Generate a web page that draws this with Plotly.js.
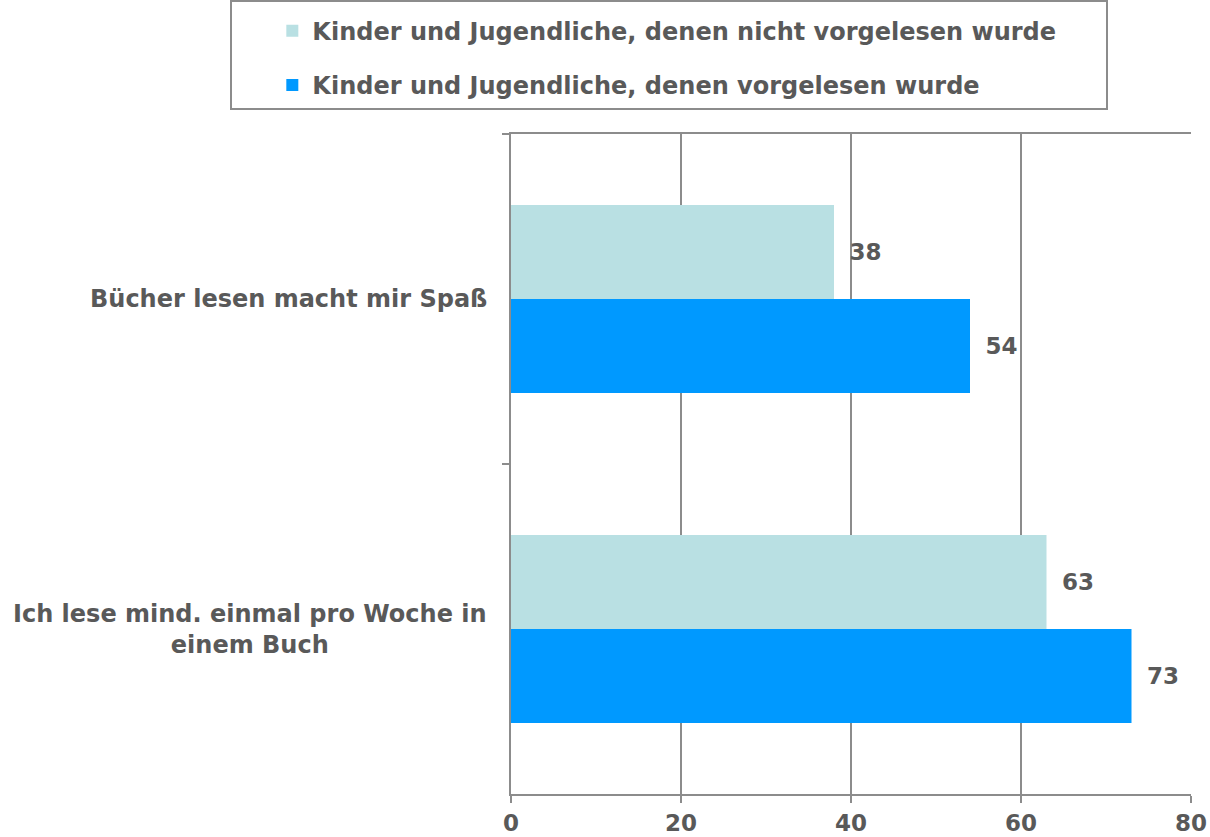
<!DOCTYPE html>
<html>
<head>
<meta charset="utf-8">
<script src="https://cdn.plot.ly/plotly-3.0.1.min.js"></script>
<style>
html,body{margin:0;padding:0;background:#fff;}
#chart{width:1210px;height:837px;}
</style>
</head>
<body>
<div id="chart"></div>
<script>
var categories = ["Bücher lesen macht mir Spaß", "Ich lese mind. einmal pro Woche in<br>einem Buch"];
var seriesNames = ["Kinder und Jugendliche, denen nicht vorgelesen wurde", "Kinder und Jugendliche, denen vorgelesen wurde"];
var notReadTo = [38, 63];
var readTo = [54, 73];
var xTicks = [0, 20, 40, 60, 80];

var textColor = "#595959";
var gridColor = "#8c8c8c";
var fontFam = "DejaVu Sans, Verdana, sans-serif";

function barTrace(name, values, color, group) {
  return {
    type: "bar",
    orientation: "h",
    name: name,
    legendgroup: group,
    y: categories,
    x: values,
    marker: {color: color, line: {width: 0}},
    texttemplate: "\u00a0\u2009%{x}",
    textposition: "outside",
    cliponaxis: false,
    constraintext: "none",
    textfont: {family: fontFam, size: 23, color: textColor, weight: "bold"},
    hoverinfo: "skip"
  };
}

var data = [
  barTrace(seriesNames[0], notReadTo, "#b9e0e3", "g1"),
  barTrace(seriesNames[1], readTo, "#0099ff", "g2")
];

var annotations = categories.map(function (c) {
  return {
    xref: "paper", yref: "y",
    x: 0, y: c,
    xanchor: "right", yanchor: "middle",
    xshift: -22,
    align: "center",
    text: c,
    showarrow: false,
    font: {family: fontFam, size: 24, color: textColor, weight: "bold"}
  };
});

var layout = {
  width: 1210,
  height: 837,
  paper_bgcolor: "#ffffff",
  plot_bgcolor: "#ffffff",
  margin: {l: 511, r: 19, t: 134, b: 43, autoexpand: false},
  barmode: "group",
  bargap: 0.43,
  bargroupgap: 0,
  showlegend: true,
  legend: {
    x: -0.351, xanchor: "left",
    y: 1.19, yanchor: "top",
    traceorder: "grouped",
    tracegroupgap: 20,
    bgcolor: "rgba(0,0,0,0)",
    borderwidth: 0,
    font: {family: fontFam, size: 24, color: textColor, weight: "bold"}
  },
  xaxis: {
    range: [0, 80],
    tickvals: xTicks,
    ticktext: xTicks.map(String),
    showgrid: true,
    gridcolor: gridColor,
    gridwidth: 2,
    showline: true,
    linecolor: gridColor,
    linewidth: 2,
    mirror: true,
    ticks: "outside",
    ticklen: 7,
    tickwidth: 2,
    tickcolor: gridColor,
    zeroline: false,
    tickfont: {family: fontFam, size: 23, color: textColor, weight: "bold"},
    fixedrange: true
  },
  yaxis: {
    type: "category",
    autorange: "reversed",
    showticklabels: false,
    tickson: "boundaries",
    ticks: "outside",
    ticklen: 7,
    tickwidth: 2,
    tickcolor: gridColor,
    showgrid: false,
    showline: true,
    linecolor: gridColor,
    linewidth: 2,
    zeroline: false,
    fixedrange: true
  },
  annotations: annotations,
  shapes: [{
    type: "rect",
    xref: "paper", yref: "paper",
    x0: (231 - 511) / 680, x1: (1107 - 511) / 680,
    y0: (794 - 109) / 660, y1: (794 - 1) / 660,
    line: {color: "#8c8c8c", width: 2},
    fillcolor: "rgba(0,0,0,0)",
    layer: "below"
  }]
};

Plotly.newPlot("chart", data, layout, {displayModeBar: false, staticPlot: true});
</script>
</body>
</html>
